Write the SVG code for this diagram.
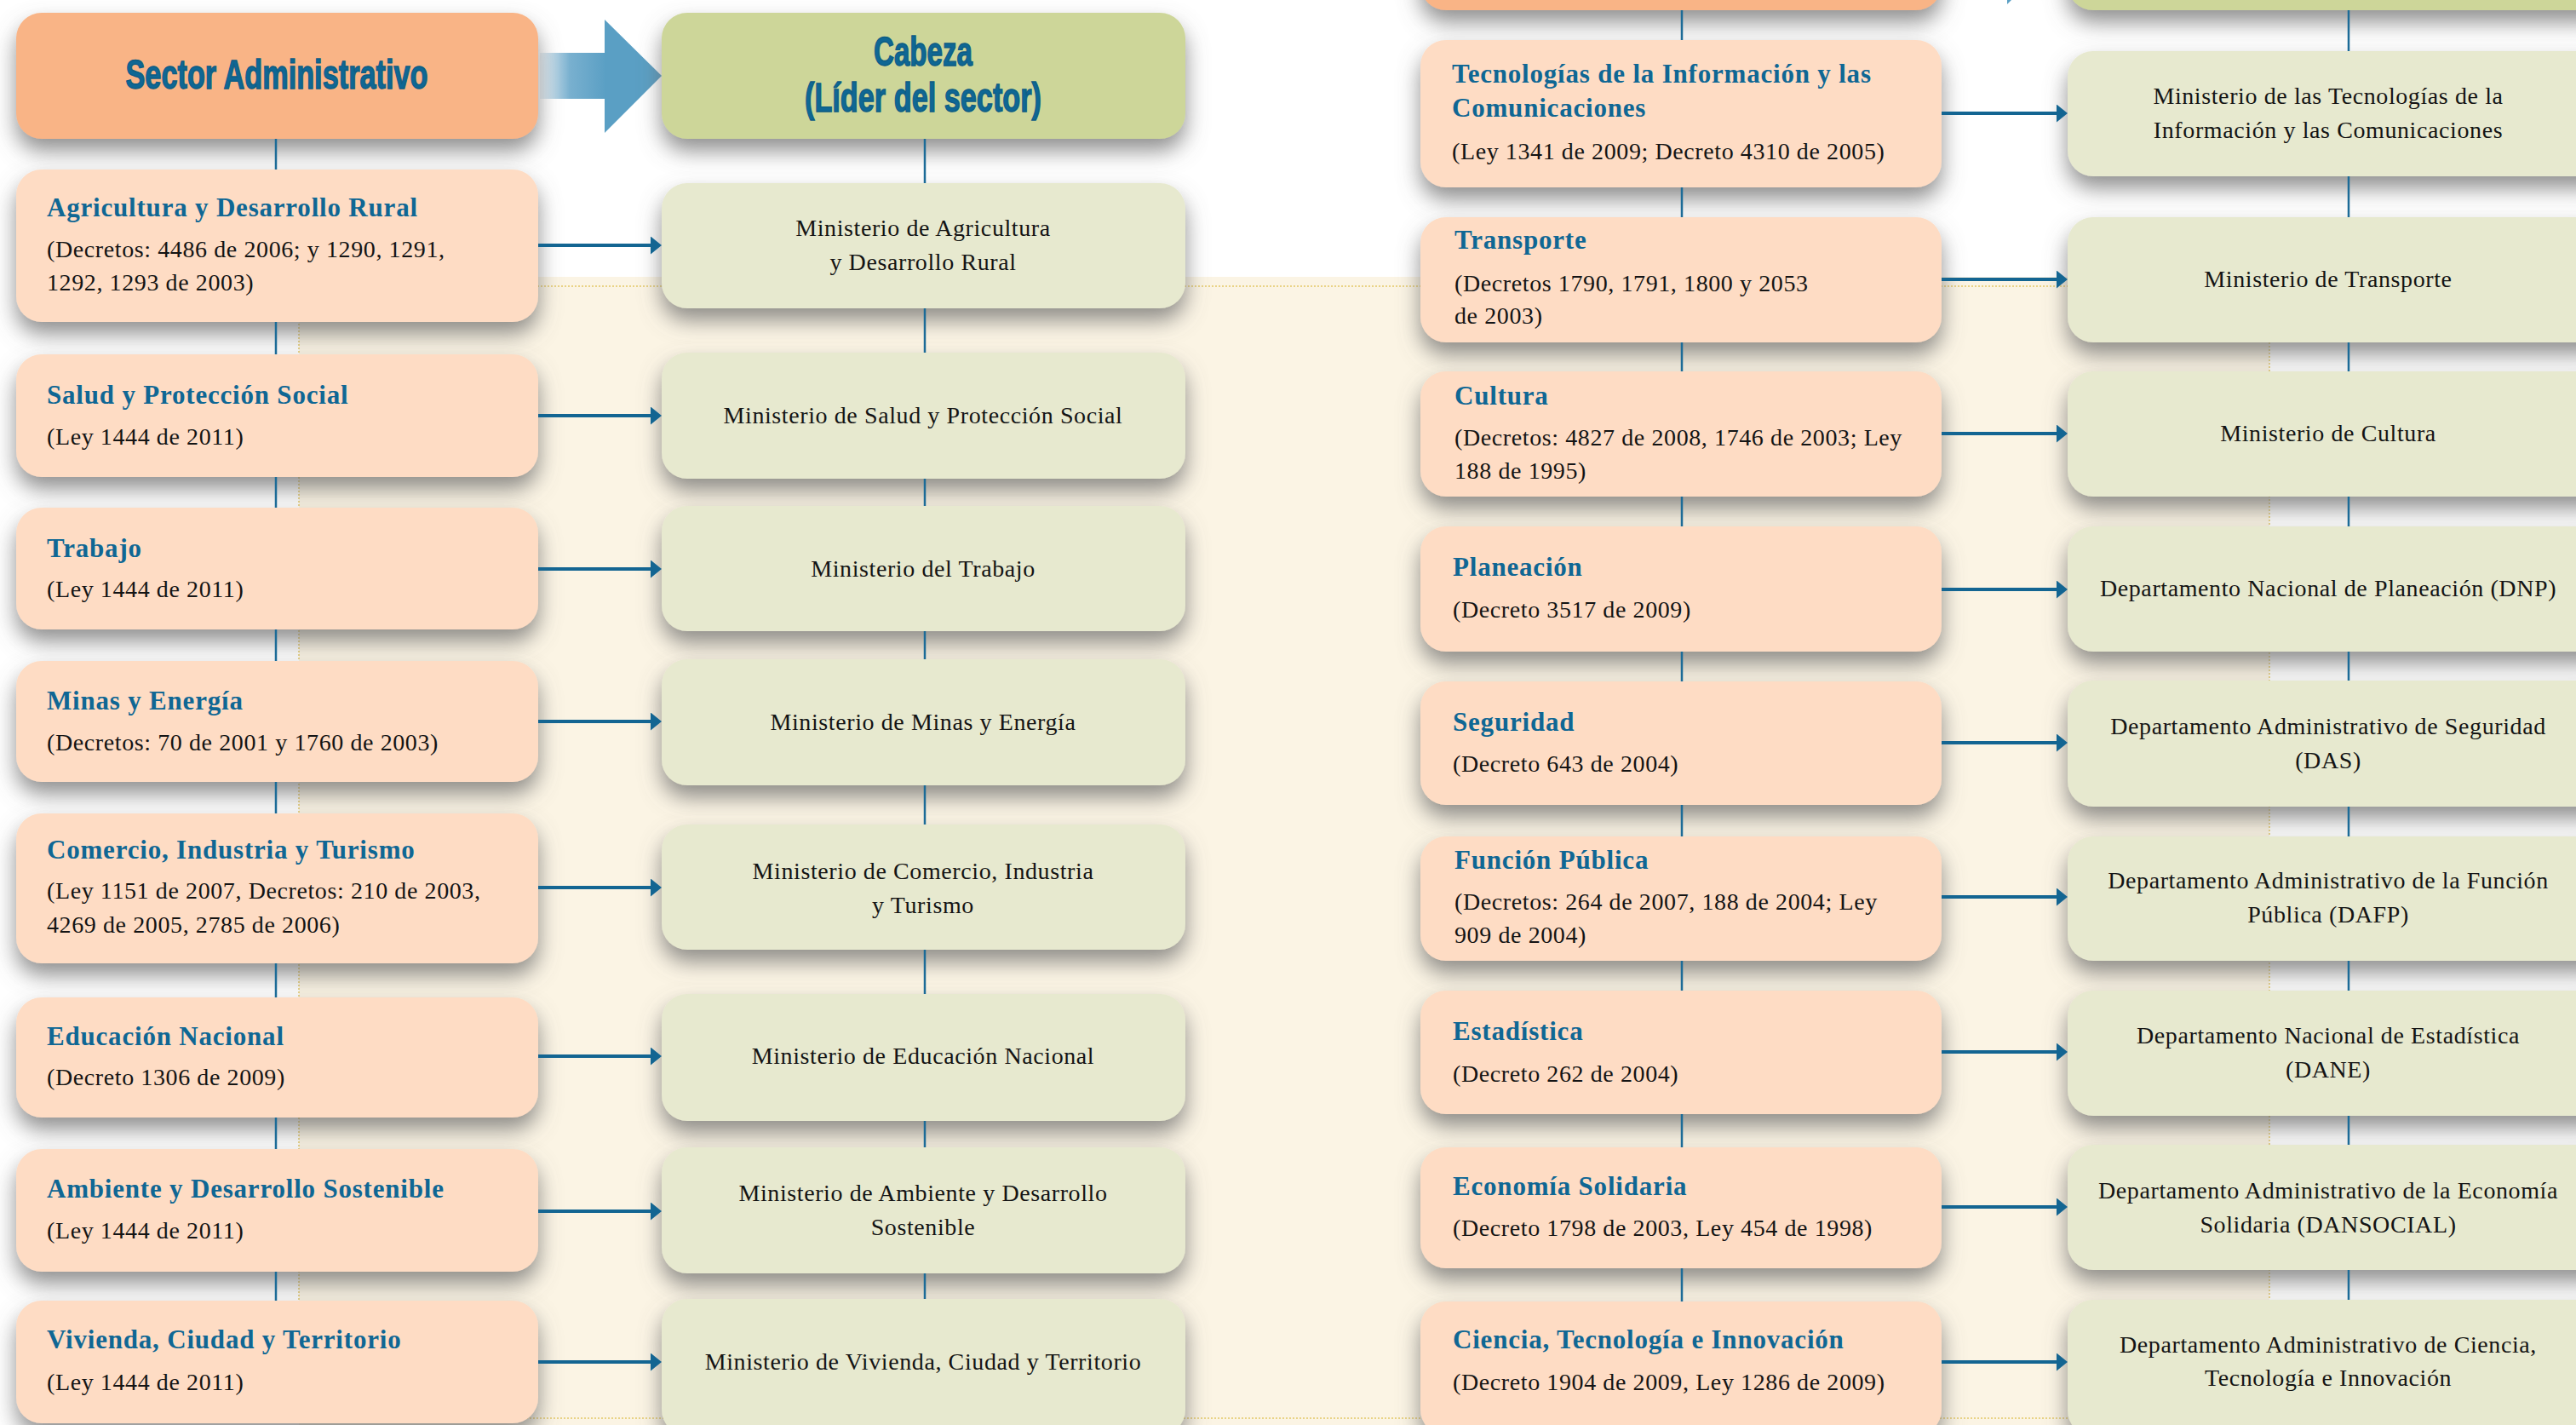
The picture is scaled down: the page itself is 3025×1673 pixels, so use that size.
<svg xmlns="http://www.w3.org/2000/svg" width="3025" height="1673" viewBox="0 0 3025 1673">
<defs>
<style>
.ho{fill:#f9b486}
.hg{fill:#cdd699}
.sec{fill:#fedcc4}
.min{fill:#e7e9cf}
.h{font-family:"Liberation Serif",serif;font-weight:bold;font-size:31px;fill:#0f6794;letter-spacing:0.8px}
.b{font-family:"Liberation Serif",serif;font-size:28px;fill:#141414;letter-spacing:0.6px}
.c{text-anchor:middle}
.t{font-family:"Liberation Sans",sans-serif;font-weight:bold;font-size:48px;fill:#0f6794;stroke:#0c5c84;stroke-width:1.4px;text-anchor:middle}
.v{stroke:#1c6b97;stroke-width:2.5;fill:none}
.a{stroke:#136592;stroke-width:4;fill:none;marker-end:url(#ah)}
</style>
<filter id="sh" x="-10%" y="-25%" width="120%" height="170%">
<feGaussianBlur in="SourceAlpha" stdDeviation="13"/>
<feOffset dy="14" result="b"/>
<feFlood flood-color="#6a6a6a" flood-opacity="0.75"/>
<feComposite in2="b" operator="in"/>
<feMerge><feMergeNode/><feMergeNode in="SourceGraphic"/></feMerge>
</filter>
<linearGradient id="shaft" x1="634" y1="0" x2="712" y2="0" gradientUnits="userSpaceOnUse">
<stop offset="0" stop-color="#eef4f8"/>
<stop offset="0.45" stop-color="#79b0cf"/>
<stop offset="1" stop-color="#5a9fc4"/>
</linearGradient>
<marker id="ah" markerUnits="userSpaceOnUse" markerWidth="13" markerHeight="21" refX="6" refY="10.5" orient="auto">
<path d="M0,0 L13,10.5 L0,21 z" fill="#136592"/>
</marker>
</defs>

<rect x="0" y="0" width="3025" height="1673" fill="#ffffff"/>
<rect x="351" y="325" width="2314" height="1348" fill="#fbf4e4"/>
<rect x="351" y="336" width="2314" height="1329" fill="none" stroke="#e3c767" stroke-width="1.5" stroke-dasharray="2 2"/>

<g id="header-arrow-left">
<rect x="634" y="62" width="78" height="54" fill="url(#shaft)"/>
<polygon points="710,23 777,89 710,156" fill="#5a9fc4"/>
</g>
<g id="header-arrow-right">
<polygon points="2357,-128 2424,-62 2357,5" fill="#5a9fc4"/>
</g>

<g id="hdr-sector">
<rect class="ho" x="19" y="15" width="613" height="148" rx="30" filter="url(#sh)"/>
<text class="t" x="325" y="104" textLength="355" lengthAdjust="spacingAndGlyphs">Sector Administrativo</text>
</g>
<g id="hdr-cabeza">
<rect class="hg" x="777" y="15" width="615" height="148" rx="30" filter="url(#sh)"/>
<text class="t" x="1084" y="77" textLength="116" lengthAdjust="spacingAndGlyphs">Cabeza</text>
<text class="t" x="1084" y="131" textLength="278" lengthAdjust="spacingAndGlyphs">(Líder del sector)</text>
</g>
<g id="hdr-sector-2">
<rect class="ho" x="1668" y="-136" width="612" height="148" rx="30" filter="url(#sh)"/>
</g>
<g id="hdr-cabeza-2">
<rect class="hg" x="2428" y="-136" width="640" height="148" rx="30" filter="url(#sh)"/>
</g>

<!-- Column 1: sectors -->
<g id="s-agricultura">
<rect class="sec" x="19" y="199" width="613" height="179" rx="30" filter="url(#sh)"/>
<text class="h" x="55" y="254">Agricultura y Desarrollo Rural</text>
<text class="b" x="55" y="302">(Decretos: 4486 de 2006; y 1290, 1291,</text>
<text class="b" x="55" y="341">1292, 1293 de 2003)</text>
</g>
<g id="s-salud">
<rect class="sec" x="19" y="416" width="613" height="144" rx="30" filter="url(#sh)"/>
<text class="h" x="55" y="474">Salud y Protección Social</text>
<text class="b" x="55" y="522">(Ley 1444 de 2011)</text>
</g>
<g id="s-trabajo">
<rect class="sec" x="19" y="596" width="613" height="143" rx="30" filter="url(#sh)"/>
<text class="h" x="55" y="654">Trabajo</text>
<text class="b" x="55" y="701">(Ley 1444 de 2011)</text>
</g>
<g id="s-minas">
<rect class="sec" x="19" y="776" width="613" height="142" rx="30" filter="url(#sh)"/>
<text class="h" x="55" y="833">Minas y Energía</text>
<text class="b" x="55" y="881">(Decretos: 70 de 2001 y 1760 de 2003)</text>
</g>
<g id="s-comercio">
<rect class="sec" x="19" y="955" width="613" height="176" rx="30" filter="url(#sh)"/>
<text class="h" x="55" y="1008">Comercio, Industria y Turismo</text>
<text class="b" x="55" y="1055">(Ley 1151 de 2007, Decretos: 210 de 2003,</text>
<text class="b" x="55" y="1095">4269 de 2005, 2785 de 2006)</text>
</g>
<g id="s-educacion">
<rect class="sec" x="19" y="1171" width="613" height="141" rx="30" filter="url(#sh)"/>
<text class="h" x="55" y="1227">Educación Nacional</text>
<text class="b" x="55" y="1274">(Decreto 1306 de 2009)</text>
</g>
<g id="s-ambiente">
<rect class="sec" x="19" y="1349" width="613" height="144" rx="30" filter="url(#sh)"/>
<text class="h" x="55" y="1406">Ambiente y Desarrollo Sostenible</text>
<text class="b" x="55" y="1454">(Ley 1444 de 2011)</text>
</g>
<g id="s-vivienda">
<rect class="sec" x="19" y="1527" width="613" height="144" rx="30" filter="url(#sh)"/>
<text class="h" x="55" y="1583">Vivienda, Ciudad y Territorio</text>
<text class="b" x="55" y="1632">(Ley 1444 de 2011)</text>
</g>

<!-- Column 2: heads -->
<g id="m-agricultura">
<rect class="min" x="777" y="215" width="615" height="147" rx="30" filter="url(#sh)"/>
<text class="b c" x="1084" y="277">Ministerio de Agricultura</text>
<text class="b c" x="1084" y="317">y Desarrollo Rural</text>
</g>
<g id="m-salud">
<rect class="min" x="777" y="414" width="615" height="148" rx="30" filter="url(#sh)"/>
<text class="b c" x="1084" y="497">Ministerio de Salud y Protección Social</text>
</g>
<g id="m-trabajo">
<rect class="min" x="777" y="594" width="615" height="147" rx="30" filter="url(#sh)"/>
<text class="b c" x="1084" y="677">Ministerio del Trabajo</text>
</g>
<g id="m-minas">
<rect class="min" x="777" y="774" width="615" height="148" rx="30" filter="url(#sh)"/>
<text class="b c" x="1084" y="857">Ministerio de Minas y Energía</text>
</g>
<g id="m-comercio">
<rect class="min" x="777" y="968" width="615" height="147" rx="30" filter="url(#sh)"/>
<text class="b c" x="1084" y="1032">Ministerio de Comercio, Industria</text>
<text class="b c" x="1084" y="1072">y Turismo</text>
</g>
<g id="m-educacion">
<rect class="min" x="777" y="1167" width="615" height="149" rx="30" filter="url(#sh)"/>
<text class="b c" x="1084" y="1249">Ministerio de Educación Nacional</text>
</g>
<g id="m-ambiente">
<rect class="min" x="777" y="1347" width="615" height="148" rx="30" filter="url(#sh)"/>
<text class="b c" x="1084" y="1410">Ministerio de Ambiente y Desarrollo</text>
<text class="b c" x="1084" y="1450">Sostenible</text>
</g>
<g id="m-vivienda">
<rect class="min" x="777" y="1525" width="615" height="160" rx="30" filter="url(#sh)"/>
<text class="b c" x="1084" y="1608">Ministerio de Vivienda, Ciudad y Territorio</text>
</g>

<!-- Column 3: sectors -->
<g id="s-tic">
<rect class="sec" x="1668" y="47" width="612" height="173" rx="30" filter="url(#sh)"/>
<text class="h" x="1705" y="97">Tecnologías de la Información y las</text>
<text class="h" x="1705" y="137">Comunicaciones</text>
<text class="b" x="1705" y="187">(Ley 1341 de 2009; Decreto 4310 de 2005)</text>
</g>
<g id="s-transporte">
<rect class="sec" x="1668" y="255" width="612" height="147" rx="30" filter="url(#sh)"/>
<text class="h" x="1708" y="292">Transporte</text>
<text class="b" x="1708" y="342">(Decretos 1790, 1791, 1800 y 2053</text>
<text class="b" x="1708" y="380">de 2003)</text>
</g>
<g id="s-cultura">
<rect class="sec" x="1668" y="436" width="612" height="147" rx="30" filter="url(#sh)"/>
<text class="h" x="1708" y="475">Cultura</text>
<text class="b" x="1708" y="523">(Decretos: 4827 de 2008, 1746 de 2003; Ley</text>
<text class="b" x="1708" y="562">188 de 1995)</text>
</g>
<g id="s-planeacion">
<rect class="sec" x="1668" y="618" width="612" height="147" rx="30" filter="url(#sh)"/>
<text class="h" x="1706" y="676">Planeación</text>
<text class="b" x="1706" y="725">(Decreto 3517 de 2009)</text>
</g>
<g id="s-seguridad">
<rect class="sec" x="1668" y="800" width="612" height="145" rx="30" filter="url(#sh)"/>
<text class="h" x="1706" y="858">Seguridad</text>
<text class="b" x="1706" y="906">(Decreto 643 de 2004)</text>
</g>
<g id="s-funcion">
<rect class="sec" x="1668" y="982" width="612" height="146" rx="30" filter="url(#sh)"/>
<text class="h" x="1708" y="1020">Función Pública</text>
<text class="b" x="1708" y="1068">(Decretos: 264 de 2007, 188 de 2004; Ley</text>
<text class="b" x="1708" y="1107">909 de 2004)</text>
</g>
<g id="s-estadistica">
<rect class="sec" x="1668" y="1163" width="612" height="145" rx="30" filter="url(#sh)"/>
<text class="h" x="1706" y="1221">Estadística</text>
<text class="b" x="1706" y="1270">(Decreto 262 de 2004)</text>
</g>
<g id="s-economia">
<rect class="sec" x="1668" y="1347" width="612" height="142" rx="30" filter="url(#sh)"/>
<text class="h" x="1706" y="1403">Economía Solidaria</text>
<text class="b" x="1706" y="1451">(Decreto 1798 de 2003, Ley 454 de 1998)</text>
</g>
<g id="s-ciencia">
<rect class="sec" x="1668" y="1528" width="612" height="157" rx="30" filter="url(#sh)"/>
<text class="h" x="1706" y="1583">Ciencia, Tecnología e Innovación</text>
<text class="b" x="1706" y="1632">(Decreto 1904 de 2009, Ley 1286 de 2009)</text>
</g>

<!-- Column 4: heads -->
<g id="m-tic">
<rect class="min" x="2428" y="60" width="640" height="147" rx="30" filter="url(#sh)"/>
<text class="b c" x="2734" y="122">Ministerio de las Tecnologías de la</text>
<text class="b c" x="2734" y="162">Información y las Comunicaciones</text>
</g>
<g id="m-transporte">
<rect class="min" x="2428" y="255" width="640" height="147" rx="30" filter="url(#sh)"/>
<text class="b c" x="2734" y="337">Ministerio de Transporte</text>
</g>
<g id="m-cultura">
<rect class="min" x="2428" y="436" width="640" height="147" rx="30" filter="url(#sh)"/>
<text class="b c" x="2734" y="518">Ministerio de Cultura</text>
</g>
<g id="m-dnp">
<rect class="min" x="2428" y="618" width="640" height="147" rx="30" filter="url(#sh)"/>
<text class="b c" x="2734" y="700">Departamento Nacional de Planeación (DNP)</text>
</g>
<g id="m-das">
<rect class="min" x="2428" y="799" width="640" height="148" rx="30" filter="url(#sh)"/>
<text class="b c" x="2734" y="862">Departamento Administrativo de Seguridad</text>
<text class="b c" x="2734" y="902">(DAS)</text>
</g>
<g id="m-dafp">
<rect class="min" x="2428" y="982" width="640" height="146" rx="30" filter="url(#sh)"/>
<text class="b c" x="2734" y="1043">Departamento Administrativo de la Función</text>
<text class="b c" x="2734" y="1083">Pública (DAFP)</text>
</g>
<g id="m-dane">
<rect class="min" x="2428" y="1163" width="640" height="147" rx="30" filter="url(#sh)"/>
<text class="b c" x="2734" y="1225">Departamento Nacional de Estadística</text>
<text class="b c" x="2734" y="1265">(DANE)</text>
</g>
<g id="m-dansocial">
<rect class="min" x="2428" y="1344" width="640" height="147" rx="30" filter="url(#sh)"/>
<text class="b c" x="2734" y="1407">Departamento Administrativo de la Economía</text>
<text class="b c" x="2734" y="1447">Solidaria (DANSOCIAL)</text>
</g>
<g id="m-ciencia">
<rect class="min" x="2428" y="1526" width="640" height="160" rx="30" filter="url(#sh)"/>
<text class="b c" x="2734" y="1588">Departamento Administrativo de Ciencia,</text>
<text class="b c" x="2734" y="1627">Tecnología e Innovación</text>
</g>

<g id="connectors">
<path class="v" d="M324,163V199 M324,378V416 M324,560V596 M324,739V776 M324,918V955 M324,1131V1171 M324,1312V1349 M324,1493V1527"/>
<path class="v" d="M1086,163V215 M1086,362V414 M1086,562V594 M1086,741V774 M1086,922V968 M1086,1115V1167 M1086,1316V1347 M1086,1495V1525"/>
<path class="v" d="M1975,12V47 M1975,220V255 M1975,402V436 M1975,583V618 M1975,765V800 M1975,945V982 M1975,1128V1163 M1975,1308V1347 M1975,1489V1528"/>
<path class="v" d="M2758,12V60 M2758,207V255 M2758,402V436 M2758,583V618 M2758,765V799 M2758,947V982 M2758,1128V1163 M2758,1310V1344 M2758,1491V1526"/>
<line class="a" x1="632" y1="288" x2="770" y2="288"/>
<line class="a" x1="632" y1="488" x2="770" y2="488"/>
<line class="a" x1="632" y1="668" x2="770" y2="668"/>
<line class="a" x1="632" y1="847" x2="770" y2="847"/>
<line class="a" x1="632" y1="1042" x2="770" y2="1042"/>
<line class="a" x1="632" y1="1240" x2="770" y2="1240"/>
<line class="a" x1="632" y1="1422" x2="770" y2="1422"/>
<line class="a" x1="632" y1="1599" x2="770" y2="1599"/>
<line class="a" x1="2280" y1="133" x2="2421" y2="133"/>
<line class="a" x1="2280" y1="328" x2="2421" y2="328"/>
<line class="a" x1="2280" y1="509" x2="2421" y2="509"/>
<line class="a" x1="2280" y1="692" x2="2421" y2="692"/>
<line class="a" x1="2280" y1="872" x2="2421" y2="872"/>
<line class="a" x1="2280" y1="1053" x2="2421" y2="1053"/>
<line class="a" x1="2280" y1="1235" x2="2421" y2="1235"/>
<line class="a" x1="2280" y1="1417" x2="2421" y2="1417"/>
<line class="a" x1="2280" y1="1599" x2="2421" y2="1599"/>
</g>
</svg>
